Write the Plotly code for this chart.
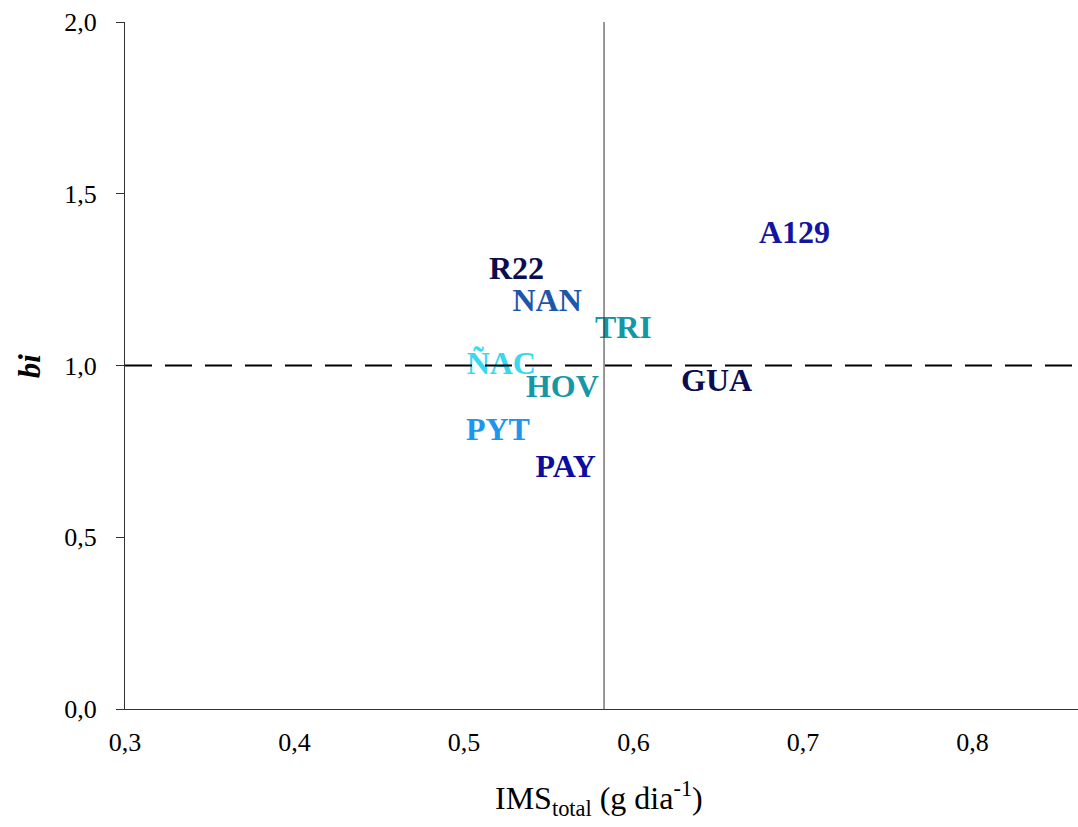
import plotly.graph_objects as go

labels = ["A129", "R22", "NAN", "TRI", "ÑAC", "HOV", "GUA", "PYT", "PAY"]
ims_total = [0.695, 0.531, 0.549, 0.594, 0.522, 0.558, 0.649, 0.520, 0.560]
bi_values = [1.38, 1.275, 1.183, 1.103, 1.00, 0.932, 0.949, 0.806, 0.699]
label_colors = ["#1414a0", "#0c0c50", "#1e56aa", "#1497a5", "#38d8f0",
                "#1597a6", "#0c0c50", "#1e96f0", "#0c0ca0"]

x_ticks = [0.3, 0.4, 0.5, 0.6, 0.7, 0.8]
x_tick_text = ["0,3", "0,4", "0,5", "0,6", "0,7", "0,8"]
y_ticks = [0.0, 0.5, 1.0, 1.5, 2.0]
y_tick_text = ["0,0", "0,5", "1,0", "1,5", "2,0"]
mean_ims = 0.5826
ref_bi = 1.0

fig = go.Figure()
fig.add_trace(go.Scatter(
    x=ims_total, y=bi_values, text=labels, mode="text",
    textposition="middle center",
    textfont=dict(family="Liberation Serif", size=32, color=label_colors, weight="bold"),
    showlegend=False, hoverinfo="skip",
))

fig.add_shape(type="line", xref="x", yref="y", x0=mean_ims, x1=mean_ims, y0=0, y1=2.0,
              line=dict(color="#333333", width=1))
fig.add_shape(type="line", xref="paper", yref="y", x0=0, x1=1, y0=ref_bi, y1=ref_bi,
              line=dict(color="black", width=2, dash="27px,13px"))

fig.add_annotation(xref="paper", yref="paper", x=0.497, y=-0.13,
                   xanchor="center", yanchor="middle", showarrow=False,
                   text="IMS<sub>total</sub> (g dia<sup>-1</sup>)",
                   font=dict(size=32, family="Liberation Serif", color="black"))
fig.add_annotation(xref="paper", yref="paper", x=-0.1, y=0.5,
                   xanchor="center", yanchor="middle", showarrow=False, textangle=-90,
                   text="<b><i>bi</i></b>",
                   font=dict(size=31, family="Liberation Serif", color="black"))

fig.update_layout(
    width=1078, height=827,
    margin=dict(l=125, r=0, t=22, b=118),
    paper_bgcolor="white", plot_bgcolor="white",
    font=dict(family="Liberation Serif", color="black"),
    xaxis=dict(
        range=[0.3, 0.8622], tickvals=x_ticks, ticktext=x_tick_text,
        ticks="", showgrid=False, zeroline=False, showline=True,
        linecolor="#333333", linewidth=1, ticklabelstandoff=10,
        tickfont=dict(size=26, family="Liberation Serif"),
    ),
    yaxis=dict(
        range=[0, 2.0], tickvals=y_ticks, ticktext=y_tick_text,
        ticks="outside", ticklen=8, tickcolor="#333333",
        showgrid=False, zeroline=False, showline=True,
        linecolor="#333333", linewidth=1, ticklabelstandoff=14,
        tickfont=dict(size=26, family="Liberation Serif"),
    ),
)

fig.write_html("out.html", config={"displayModeBar": False},
               post_script="document.body.style.margin='0';document.body.style.overflow='hidden';")
